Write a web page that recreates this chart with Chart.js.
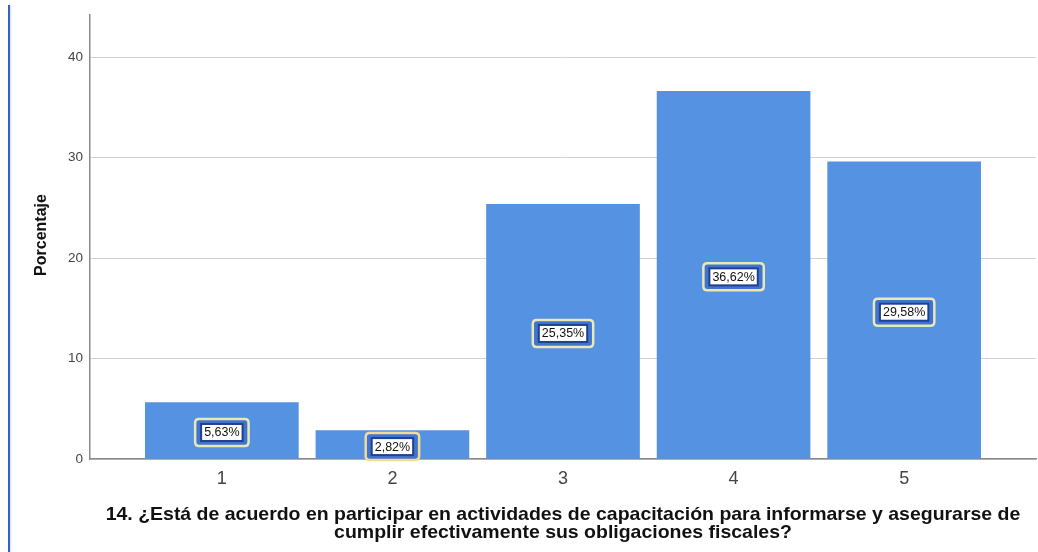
<!DOCTYPE html>
<html>
<head>
<meta charset="utf-8">
<script src="https://cdn.jsdelivr.net/npm/chart.js@4"></script>
<style>
html,body{margin:0;padding:0;background:#fff;}
#wrap{position:relative;width:1038px;height:552px;}
#edge{position:absolute;left:8px;top:5px;width:2px;bottom:0;background:#3560c4;box-shadow:1px 0 2px #cfe0f5;}
canvas{position:absolute;left:0;top:0;}
</style>
</head>
<body>
<div id="wrap">
<canvas id="c" width="1038" height="552"></canvas>
<div id="edge"></div>
</div>
<script>
const categories = [1, 2, 3, 4, 5];
const percentages = [5.63, 2.82, 25.35, 36.62, 29.58];
const valueLabels = ['5,63%', '2,82%', '25,35%', '36,62%', '29,58%'];
const yTicks = [0, 10, 20, 30, 40];
const yTitle = 'Porcentaje';
const xTitle = ['14. ¿Está de acuerdo en participar en actividades de capacitación para informarse y asegurarse de', 'cumplir efectivamente sus obligaciones fiscales?'];

const FONT = '"Liberation Sans", Arial, sans-serif';

function roundRect(ctx, x, y, w, h, r) {
  ctx.beginPath();
  ctx.moveTo(x + r, y);
  ctx.lineTo(x + w - r, y);
  ctx.quadraticCurveTo(x + w, y, x + w, y + r);
  ctx.lineTo(x + w, y + h - r);
  ctx.quadraticCurveTo(x + w, y + h, x + w - r, y + h);
  ctx.lineTo(x + r, y + h);
  ctx.quadraticCurveTo(x, y + h, x, y + h - r);
  ctx.lineTo(x, y + r);
  ctx.quadraticCurveTo(x, y, x + r, y);
  ctx.closePath();
}

const labelPlugin = {
  id: 'boxLabels',
  afterDatasetsDraw(chart) {
    const ctx = chart.ctx;
    const meta = chart.getDatasetMeta(0);
    ctx.save();
    ctx.font = '12.5px ' + FONT;
    ctx.textAlign = 'center';
    ctx.textBaseline = 'middle';
    meta.data.forEach((bar, i) => {
      const cx = bar.x;
      const cy = (bar.y + bar.base) / 2 + 2;
      const txt = valueLabels[i];
      const tw = ctx.measureText(txt).width;
      const iw = tw + 6, ih = 17;
      const ow = iw + 12, oh = ih + 10;
      ctx.lineWidth = 2.5;
      ctx.strokeStyle = percentages[i] < 4 ? '#f0dc98' : '#e9e8b6';
      ctx.fillStyle = '#3f74cf';
      roundRect(ctx, cx - ow / 2, cy - oh / 2, ow, oh, 4);
      ctx.fill();
      ctx.stroke();
      ctx.fillStyle = '#ffffff';
      ctx.fillRect(cx - iw / 2, cy - ih / 2, iw, ih);
      ctx.lineWidth = 2;
      ctx.strokeStyle = '#22408e';
      ctx.strokeRect(cx - iw / 2, cy - ih / 2, iw, ih);
      ctx.fillStyle = '#111';
      ctx.fillText(txt, cx, cy + 0.5);
    });
    ctx.restore();
  }
};

const titlePlugin = {
  id: 'titles',
  afterDraw(chart) {
    const ctx = chart.ctx;
    const a = chart.chartArea;
    ctx.save();
    ctx.fillStyle = '#111';
    ctx.font = 'bold 16px ' + FONT;
    ctx.textAlign = 'center';
    ctx.textBaseline = 'middle';
    ctx.save();
    ctx.translate(42, 235);
    ctx.rotate(-Math.PI / 2);
    ctx.fillText(yTitle, 0, 0);
    ctx.restore();
    const cx = (a.left + a.right) / 2;
    ctx.font = 'bold 19px ' + FONT;
    ctx.textBaseline = 'alphabetic';
    ctx.save();
    ctx.translate(cx, 0);
    ctx.scale(1.025, 1);
    ctx.fillText(xTitle[0], 0, 520);
    ctx.fillText(xTitle[1], 0, 538);
    ctx.restore();
    ctx.restore();
  }
};

new Chart(document.getElementById('c'), {
  type: 'bar',
  data: {
    datasets: [{
      data: categories.map((c, i) => ({ x: c, y: percentages[i] })),
      backgroundColor: '#5592e2',
      borderWidth: 0,
      barThickness: 153
    }]
  },
  options: {
    responsive: false,
    devicePixelRatio: 1,
    animation: false,
    layout: { padding: { left: 0, right: 2, top: 10, bottom: 0 } },
    plugins: { legend: { display: false }, tooltip: { enabled: false } },
    scales: {
      x: {
        type: 'linear',
        offset: false,
        min: 0.227,
        max: 5.773,
        afterBuildTicks(scale) { scale.ticks = categories.map(v => ({ value: v })); },
        afterFit(scale) { scale.height = 93; },
        grid: { display: false, drawTicks: false, offset: false },
        border: { display: true, color: '#8a8a8a', width: 1.5 },
        ticks: {
          padding: 9,
          font: { size: 18, family: FONT },
          color: '#444',
          callback: v => String(v)
        }
      },
      y: {
        min: 0,
        max: 44.2,
        afterBuildTicks(scale) { scale.ticks = yTicks.map(v => ({ value: v })); },
        afterFit(scale) { scale.width = 90; },
        grid: { color: '#d2d2d2', lineWidth: 1, drawTicks: false },
        border: { display: true, color: '#8a8a8a', width: 1.5 },
        ticks: {
          padding: 7,
          font: { size: 13.5, family: FONT },
          color: '#444'
        }
      }
    }
  },
  plugins: [labelPlugin, titlePlugin]
});
</script>
</body>
</html>
